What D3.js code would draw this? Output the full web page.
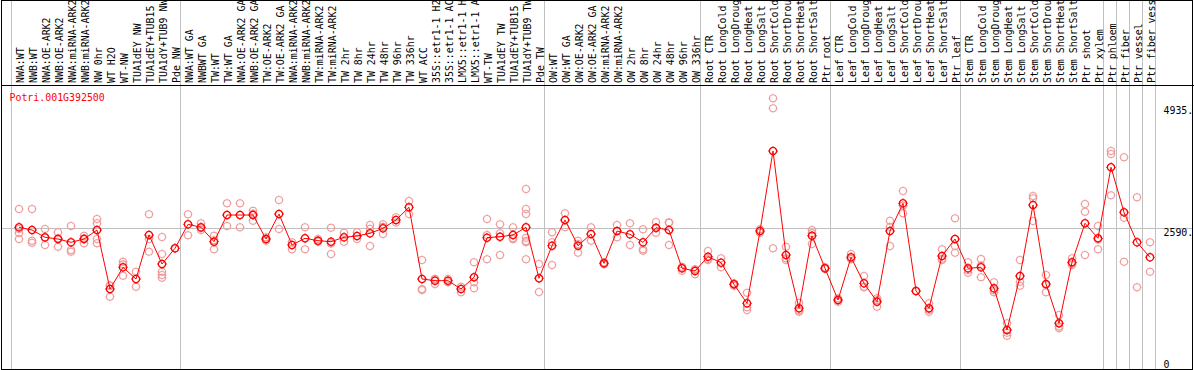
<!DOCTYPE html>
<html><head><meta charset="utf-8">
<script src="https://cdn.jsdelivr.net/npm/d3@7/dist/d3.min.js"></script>
<style>
body{margin:0;background:#fff}
svg{display:block}
text{font-family:"DejaVu Sans Mono",monospace;font-size:11px}
</style>
</head><body>
<svg id="chart" width="1194" height="370"></svg>
<script>
const geneTitle = "Potri.001G392500";

const categories = [
"NWA:WT","NWB:WT","NWA:OE-ARK2","NWB:OE-ARK2","NWA:miRNA-ARK2","NWB:miRNA-ARK2","NW 0hr","WT H2O","WT-NW","TUA1dEY NW","TUA1dEY+TUB15","TUA1dY+TUB9 NW","Pde NW",
"NWA:WT GA","NWBWT GA","TW:WT","TW:WT GA","NWA:OE-ARK2 GA","NWB:OE-ARK2 GA","TW:OE-ARK2","TW:OE-ARK2 GA","NWA:miRNA-ARK2","NWB:miRNA-ARK2","TW:miRNA-ARK2","TW:miRNA-ARK2",
"TW 2hr","TW 8hr","TW 24hr","TW 48hr","TW 96hr","TW 336hr","WT ACC","35S::etr1-1 H2","35S::etr1-1 AC","LMX5::etr1-1 H","LMX5::etr1-1 A","WT-TW","TUA1dEY TW","TUA1dEY+TUB15","TUA1dY+TUB9 TW","Pde TW",
"OW:WT","OW:WT GA","OW:OE-ARK2","OW:OE-ARK2 GA","OW:miRNA-ARK2","OW:miRNA-ARK2","OW 2hr","OW 8hr","OW 24hr","OW 48hr","OW 96hr","OW 336hr",
"Root CTR","Root LongCold","Root LongDroug","Root LongHeat","Root LongSalt","Root ShortCold","Root ShortDrou","Root ShortHeat","Root ShortSalt","Ptr root",
"Leaf CTR","Leaf LongCold","Leaf LongDroug","Leaf LongHeat","Leaf LongSalt","Leaf ShortCold","Leaf ShortDrou","Leaf ShortHeat","Leaf ShortSalt","Ptr leaf",
"Stem CTR","Stem LongCold","Stem LongDroug","Stem LongHeat","Stem LongSalt","Stem ShortCold","Stem ShortDrou","Stem ShortHeat","Stem ShortSalt","Ptr shoot","Ptr xylem",
"Ptr phloem","Ptr fiber","Ptr vessel","Ptr fiber vess"
];

// group separators: index of first category of each group, plus the end
const groupStarts = [0,13,41,53,63,73,84,85,86,87,88];

const means = [
2609,2557,2418,2385,2322,2385,2557,1429,1844,1620,2462,1907,2207,
2666,2609,2334,2844,2844,2844,2385,2863,2271,2399,2353,2334,2418,2443,2494,2590,2749,2992,1620,1588,1588,1429,1653,2410,2429,2462,2609,1634,
2257,2749,2257,2481,1920,2538,2475,2322,2601,2557,1825,1773,
2047,1932,1519,1155,2538,4069,2079,1060,2448,1825,
1218,2035,1538,1186,2538,3068,1391,1060,2060,2385,
1825,1844,1442,645,1678,3036,1524,773,1940,2686,2399,
3757,2896,2322,2035
];

const replicates = [
[2959,2577,2500,2385],[2959,2353,2314],[2577,2410,2271],[2513,2400,2238],[2634,2175,2142],[2448,2400,2303],[2768,2686,2385,2303],[1500,1486,1282],[1951,1900,1683],[1760,1473],[2858,2385,2142],[2424,2098,1760,1697,1645],[2207],
[2858,2456],[2686,2590,2557],[2448,2360,2188],[3068,2634],[3068,2609],[2927,2870,2735],[2418,2385,2353],[3131,2577],[2322,2188],[2609,2188],[2385,2334],[2601,2300,2098],[2506,2334],[2513,2385],[2653,2580,2251],[2666,2620,2481],[2800,2700],[3112,2863],[1984,1429,1410],[1620,1620,1524],[1620,1557],[1473,1366],[1940,1557,1442],[2768,2460,1997],[2666,2494,2079],[2609,2399,2380],[3342,2959,2863,2410,2347,2322,1997],[1907,1371],
[2513,2322,1888],[2877,2609],[2353,2290,2123],[2609,2353],[1940,1920,1900],[2653,2418],[2686,2271],[2571,2188,2161],[2710,2590,2506],[2703,2697,2271],[1855,1840,1779],[1806,1800,1710],
[2156,2000,1984],[2016,1844],[1538,1530,1492],[1358,1079,1027],[2571,2506],[5077,4885,2207],[2238,2015,1984],[1167,1020,995],[2557,2497,2290],[1844,1820,1811],
[1251,1218,1186],[2098,2004,2003],[1678,1473,1463],[1251,1217,1090],[2735,2621,2251],[3303,3024,2877],[1391],[1155,1030,995],[2188,2008,1984],[2781,2251,2123],
[1940,1794,1741],[2003,1876,1653],[1557,1403,1366],[773,593,536],[1984,1568,1492],[3208,3164,2730],[1697,1509,1366],[932,710,677],[2016,1916,1888],[3055,2907,2079],[2634,2375,2188],
[4069,4011,3221],[3948,2793,1951],[3183,1461],[2322,1760]
];

const yTickValues = [0, 2590, 4935];
const gridValues = [2590];

// ---- layout ----
const W = 1194, H = 370;
const plotTop = 85, plotBottom = 369, left = 1, right = 1192;
const svg = d3.select("#chart");

const x = d3.scaleBand().domain(d3.range(categories.length)).range([11, 1155]);
const y = d3.scaleLinear().domain([0, 5331]).range([363.7, plotTop]);
const px = i => x(i) + 8;
const sepX = d => (d < categories.length ? x(d) : x(categories.length - 1) + x.bandwidth()) + 0.5;

// separators
svg.append("g").selectAll("line").data(groupStarts).join("line")
  .attr("x1", sepX).attr("x2", sepX)
  .attr("y1", 0).attr("y2", plotBottom)
  .attr("stroke", "#c0c0c0").attr("stroke-width", 1);

// horizontal grid
svg.append("g").selectAll("line").data(gridValues).join("line")
  .attr("x1", left).attr("x2", right)
  .attr("y1", d => Math.round(y(d)) + 0.5).attr("y2", d => Math.round(y(d)) + 0.5)
  .attr("stroke", "#c0c0c0");

// frame
svg.append("rect").attr("x", left + 0.5).attr("y", 0.5).attr("width", right - left).attr("height", plotBottom)
  .attr("fill", "none").attr("stroke", "#000");
svg.append("line").attr("x1", left).attr("x2", W).attr("y1", plotTop + 0.5).attr("y2", plotTop + 0.5).attr("stroke", "#000");

// category labels
svg.append("g").selectAll("text").data(categories).join("text")
  .attr("transform", (d, i) => `translate(${x(i) + 13},83) rotate(-90) scale(0.9,1)`)
  .attr("text-anchor", "start")
  .attr("fill", "#000")
  .text(d => d);

// title
svg.append("text").attr("transform", "translate(9.5,100.5) scale(0.9,1)").attr("fill", "#ff0000").text(geneTitle);

// right axis
const axis = d3.axisRight(y).tickValues(yTickValues).tickSize(0)
  .tickFormat(d => d === 0 ? "0" : d + ".");
const ag = svg.append("g").attr("transform", "translate(1163.5,0)").call(axis);
ag.select(".domain").remove();
ag.selectAll("text")
  .attr("x", 0).attr("text-anchor", "start").attr("dy", null)
  .attr("y", d => d === 0 ? 3.3 : 7.4)
  .attr("transform", "scale(0.9,1)")
  .attr("fill", "#000")
  .style("font-family", "'DejaVu Sans Mono', monospace").style("font-size", "11px");

// marker path
const marker = (r, t) => `M${-r},0a${r},${r} 0 1,0 ${2*r},0a${r},${r} 0 1,0 ${-2*r},0` +
  `M0,${-r}V${-t}M0,${r}V${t}M${-r},0H${-t}M${r},0H${t}`;

// replicates
const repData = [];
replicates.forEach((arr, i) => arr.forEach(v => repData.push({i, v})));
svg.append("g").selectAll("path").data(repData).join("path")
  .attr("transform", d => `translate(${px(d.i)},${y(d.v)})`)
  .attr("d", marker(3.5, 4.5))
  .attr("fill", "none").attr("stroke", "#ef9a9a").attr("stroke-width", 1.1);

// mean line
const line = d3.line().x((d, i) => px(i)).y(d => y(d));
svg.append("path").datum(means).attr("d", line)
  .attr("fill", "none").attr("stroke", "#ff0000").attr("stroke-width", 1);

// means
svg.append("g").selectAll("path").data(means).join("path")
  .attr("transform", (d, i) => `translate(${px(i)},${y(d)})`)
  .attr("d", marker(3.6, 4.7))
  .attr("fill", "none").attr("stroke", "#ff0000").attr("stroke-width", 1.3);
</script>
</body></html>
